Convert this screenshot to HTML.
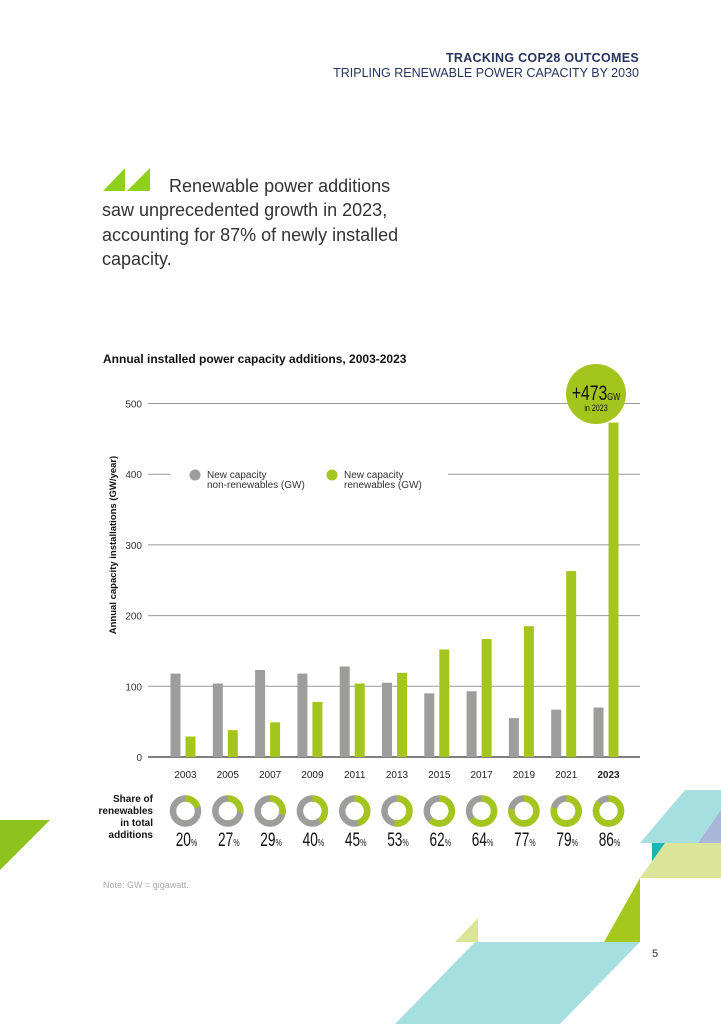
<!DOCTYPE html>
<html><head><meta charset="utf-8"><style>
body{margin:0;width:721px;height:1024px;background:#fff;overflow:hidden;position:relative;font-family:"Liberation Sans",sans-serif}
.abs{position:absolute}
</style></head><body>
<div class="abs" style="right:82px;top:51px;font-size:12.5px;font-weight:bold;color:#27335f;letter-spacing:0.3px">TRACKING COP28 OUTCOMES</div>
<div class="abs" style="right:82px;top:66px;font-size:12.5px;color:#27335f">TRIPLING RENEWABLE POWER CAPACITY BY 2030</div>
<svg class="abs" style="left:103px;top:167px" width="50" height="25"><polygon points="0,24 22,1 22,24" fill="#8fd11a"/><polygon points="24,24 47,1 47,24" fill="#8fd11a"/></svg>
<div class="abs" style="left:102px;top:174px;width:320px;font-size:18px;line-height:24.3px;color:#333"><span style="padding-left:67px">Renewable power additions</span><br>saw unprecedented growth in 2023,<br>accounting for 87% of newly installed<br>capacity.</div>
<div class="abs" style="left:103px;top:352px;font-size:12px;font-weight:bold;color:#111">Annual installed power capacity additions, 2003-2023</div>
<div class="abs" style="left:103px;top:880px;font-size:9px;color:#aaa">Note: GW = gigawatt.</div>
<div class="abs" style="left:652px;top:948px;font-size:11px;color:#333">5</div>
<svg class="abs" style="left:0;top:0" width="721" height="1024">
<polygon points="0,820 50,820 0,870" fill="#8dc21f"/>
<polygon points="685,790 721,790 721,843 640,843" fill="#a6dfe0"/>
<polygon points="721,810 721,843 698,843" fill="#a9b6d8"/>
<polygon points="652,843 680,843 652,870" fill="#1bb5b5"/>
<polygon points="665,843 721,843 721,878 640,878" fill="#dbe59a"/>
<polygon points="640,878 640,942 604,942" fill="#a6c81e"/>
<polygon points="475,942 640,942 560,1024 395,1024" fill="#a6dfe0"/>
<polygon points="455,942 478,918 478,942" fill="#dbe59a"/>
</svg>
<svg id="chart" class="abs" style="left:0;top:0" width="721" height="1024"></svg>
<script>
const years=["2003","2005","2007","2009","2011","2013","2015","2017","2019","2021","2023"];
const nonRenewables=[118,104,123,118,128,105,90,93,55,67,70];
const renewables=[29,38,49,78,104,119,152,167,185,263,473];
const shares=[20,27,29,40,45,53,62,64,77,79,86];
const ticks=[0,100,200,300,400,500];
const svg=document.getElementById('chart');
const NS="http://www.w3.org/2000/svg";
const y=v=>757-v*0.707;
const x=i=>185.5+i*42.3;
function mk(t,a){const e=document.createElementNS(NS,t);for(const k in a)e.setAttribute(k,a[k]);svg.appendChild(e);return e;}
ticks.forEach(t=>{
  const yy=y(t);
  if(t===400){
    const g1=mk('line',{x1:148,x2:170,y1:yy,y2:yy,stroke:'#999','stroke-width':1});
    
    const g2=mk('line',{x1:448,x2:640,y1:yy,y2:yy,stroke:'#999','stroke-width':1});
    
  }else{
    const g=mk('line',{x1:148,x2:640,y1:yy,y2:yy,stroke:t===0?'#555':'#999','stroke-width':t===0?1.5:1});
    
  }
  const l=mk('text',{x:142,y:yy+4,'text-anchor':'end','font-size':10,fill:'#333'});
  l.textContent=t;
  
});
const yt=mk('text',{x:0,y:0,transform:'translate(116,545) rotate(-90)','text-anchor':'middle','font-size':9.5,'font-weight':'bold',fill:'#111'});
yt.textContent='Annual capacity installations (GW/year)';

years.forEach((yr,i)=>{
  const c=x(i);
  const b1=mk('rect',{x:c-15,y:y(nonRenewables[i]),width:10,height:757-y(nonRenewables[i]),fill:'#9d9d9c'});
  
  const b2=mk('rect',{x:c,y:y(renewables[i]),width:10,height:757-y(renewables[i]),fill:'#a4c51d'});
  
  const lb=mk('text',{x:c,y:778,'text-anchor':'middle','font-size':10,fill:'#222','font-weight':i===years.length-1?'bold':'normal'});
  lb.textContent=yr;
  
  const r=12.5,cy=811,circ=2*Math.PI*r,p=shares[i]/100;
  const d1=mk('circle',{cx:c,cy:cy,r:r,fill:'none',stroke:'#9d9d9c','stroke-width':6.5});
  
  const d2=mk('circle',{cx:c,cy:cy,r:r,fill:'none',stroke:'#a4c51d','stroke-width':6.5,'stroke-dasharray':(circ*p)+' '+circ,transform:`rotate(-90 ${c} ${cy})`});
  
  const pt=mk('text',{x:0,y:0,'text-anchor':'middle',fill:'#111',transform:`translate(${c+1},846) scale(0.72,1)`});
  pt.innerHTML=`<tspan font-size="19">${shares[i]}</tspan><tspan font-size="10">%</tspan>`;
  
});
const sl=mk('text',{x:153,y:802,'text-anchor':'end','font-size':10,'font-weight':'bold',fill:'#111'});
sl.innerHTML='<tspan x="153" dy="0">Share of</tspan><tspan x="153" dy="12">renewables</tspan><tspan x="153" dy="12">in total</tspan><tspan x="153" dy="12">additions</tspan>';

const bub=mk('circle',{cx:596,cy:394,r:30,fill:'#a4c51d'});

const bt=mk('text',{x:0,y:0,'text-anchor':'middle',fill:'#111',transform:'translate(596,400) scale(0.75,1)'});
bt.innerHTML='<tspan font-size="21">+473</tspan><tspan font-size="10">GW</tspan>';

const bt2=mk('text',{x:0,y:0,'text-anchor':'middle','font-size':9.5,fill:'#111',transform:'translate(596,411) scale(0.75,1)'});
bt2.textContent='in 2023';

const lg=[["#9d9d9c",195,"New capacity","non-renewables (GW)","legend-nonrenewables"],["#a4c51d",332,"New capacity","renewables (GW)","legend-renewables"]];
lg.forEach(L=>{
  const c=mk('circle',{cx:L[1],cy:475,r:5.5,fill:L[0]});
  
  const t=mk('text',{x:L[1]+12,y:478,'font-size':10,fill:'#333'});
  t.innerHTML=`<tspan x="${L[1]+12}">${L[2]}</tspan><tspan x="${L[1]+12}" dy="10">${L[3]}</tspan>`;
  
});
</script>
</body></html>
